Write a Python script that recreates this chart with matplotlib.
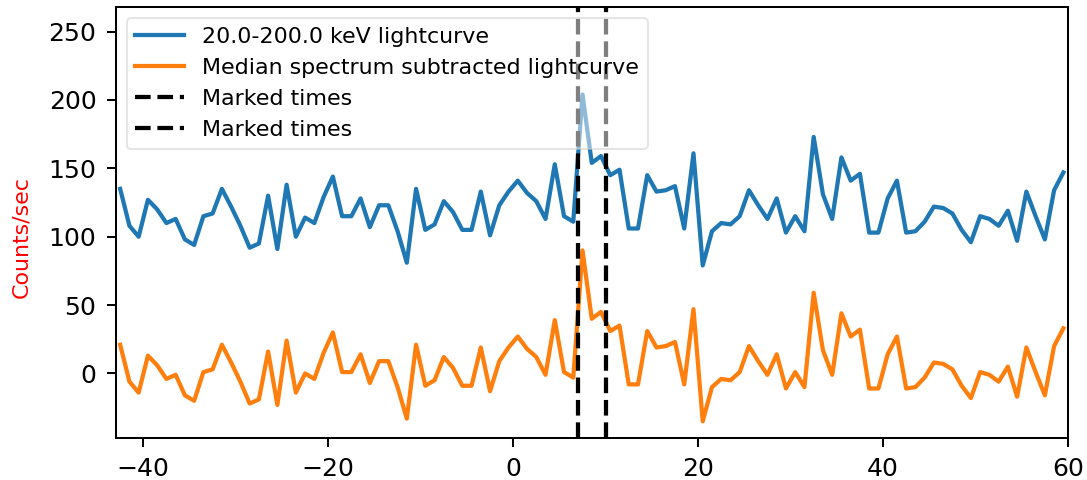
import numpy as np
import matplotlib
matplotlib.use('agg')
import matplotlib.pyplot as plt

# lightcurve bins (s, relative to trigger)
times = np.arange(-42.5, 60.0, 1.0)

# 20-200 keV count rate
rate = [135, 108, 100, 127, 120, 110, 113, 98, 94, 115,
        117, 135, 122, 108, 92, 95, 130, 91, 138, 100,
        114, 110, 129, 144, 115, 115, 128, 107, 123, 123,
        104, 81, 135, 105, 109, 126, 118, 105, 105, 133,
        101, 123, 133, 141, 132, 126, 113, 153, 115, 111,
        204, 154, 159, 145, 149, 106, 106, 145, 133, 134,
        137, 106, 161, 79, 104, 110, 109, 115, 134, 123,
        113, 128, 103, 115, 104, 173, 131, 113, 158, 141,
        146, 103, 103, 128, 141, 103, 104, 111, 122, 121,
        117, 105, 96, 115, 113, 108, 119, 97, 133, 115,
        98, 134, 147]

# median spectrum subtracted
rate_sub = [21, -6, -14, 13, 6, -4, -1, -16, -20, 1,
            3, 21, 8, -6, -22, -19, 16, -23, 24, -14,
            0, -4, 15, 30, 1, 1, 14, -7, 9, 9,
            -10, -33, 21, -9, -5, 12, 4, -9, -9, 19,
            -13, 9, 19, 27, 18, 12, -1, 39, 1, -3,
            90, 40, 45, 31, 35, -8, -8, 31, 19, 20,
            23, -8, 47, -35, -10, -4, -5, 1, 20, 9,
            -1, 14, -11, 1, -10, 59, 17, -1, 44, 27,
            32, -11, -11, 14, 27, -11, -10, -3, 8, 7,
            3, -9, -18, 1, -1, -6, 5, -17, 19, 1,
            -16, 20, 33]

marked = [7.0, 10.0]

fig = plt.figure(figsize=(1087 / 145, 480 / 145), dpi=145)
ax = fig.add_axes([0.1063, 0.0881, 0.8762, 0.8973])

ax.plot(times, rate, lw=2.1, label='20.0-200.0 keV lightcurve')
ax.plot(times, rate_sub, lw=2.1, label='Median spectrum subtracted lightcurve')
for t in marked:
    ax.axvline(t, color='k', ls='--', lw=2.1, label='Marked times')

ax.set_xlim(-43, 60)
ax.set_ylim(-47, 268)
for s in ax.spines.values():
    s.set_linewidth(1.0)
ax.tick_params(labelsize=12.5, length=4.5, width=1.0, pad=5)
ax.set_ylabel('Counts/sec', color='red', fontsize=11)
ax.yaxis.set_label_coords(-0.089, 0.465)
ax.legend(loc='upper left', framealpha=0.5, fontsize=11, handlelength=2.2)

fig.savefig('out.png', dpi=145)
